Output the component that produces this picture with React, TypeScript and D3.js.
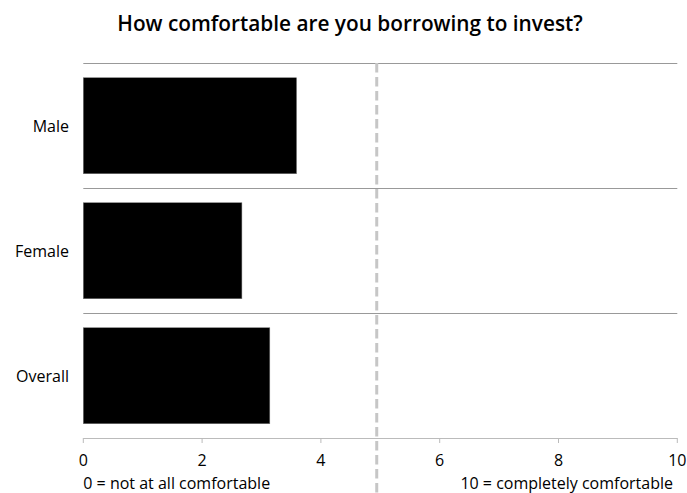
import React from "react";
import * as d3 from "d3";

const categories = ["Male", "Female", "Overall"];
const values = [3.59, 2.67, 3.14];
const tickValues = [0, 2, 4, 6, 8, 10];
const referenceValue = 4.94;
const title = "How comfortable are you borrowing to invest?";
const leftNote = "0 = not at all comfortable";
const rightNote = "10 = completely comfortable";

const W = 687;
const H = 493;
const FONT = "'Open Sans', 'Noto Sans', sans-serif";

export default function App() {
  const x = d3.scaleLinear().domain([0, 10]).range([83.3, 677.3]);
  const y = d3.scaleBand<string>().domain(categories).range([63, 438]).paddingInner(0).paddingOuter(0);
  const bw = y.bandwidth();
  const barTop = bw * 0.118;
  const barH = bw * 0.768;
  const axisY = 438;
  return (
    <svg width={W} height={H} style={{ position: "absolute", left: 0, top: 0, background: "#fff" }}>
      <text x={350} y={31} textAnchor="middle" fontFamily={FONT} fontWeight={600} fontSize={20.8} fill="#000">
        {title}
      </text>
      {categories.map((c) => (
        <line key={"g" + c} x1={x(0)} x2={x(10)} y1={y(c)! + 0.5} y2={y(c)! + 0.5} stroke="#999" strokeWidth={1.2} />
      ))}
      {categories.map((c, i) => (
        <g key={c}>
          <rect x={x(0)} y={y(c)! + barTop} width={x(values[i]) - x(0)} height={barH} fill="#000" stroke="#777" strokeWidth={0.5} />
          <text x={69} y={y(c)! + bw / 2} textAnchor="end" dominantBaseline="central" fontFamily={FONT} fontSize={16} fill="#000">
            {c}
          </text>
        </g>
      ))}
      <line x1={x(0)} x2={x(10)} y1={axisY + 0.5} y2={axisY + 0.5} stroke="#bbb" strokeWidth={1.2} />
      {tickValues.map((t) => (
        <g key={t}>
          <line x1={x(t)} x2={x(t)} y1={axisY} y2={axisY + 5} stroke="#bbb" strokeWidth={1} />
          <text x={x(t)} y={466} textAnchor="middle" fontFamily={FONT} fontSize={16} fill="#000">
            {t}
          </text>
        </g>
      ))}
      <line x1={x(referenceValue)} x2={x(referenceValue)} y1={63} y2={H} stroke="#c6c6c6" strokeWidth={3} strokeDasharray="9.5 4.5" />
      <text x={x(0)} y={489} textAnchor="start" fontFamily={FONT} fontSize={16} fill="#000">
        {leftNote}
      </text>
      <text x={673} y={489} textAnchor="end" fontFamily={FONT} fontSize={16} fill="#000">
        {rightNote}
      </text>
    </svg>
  );
}
